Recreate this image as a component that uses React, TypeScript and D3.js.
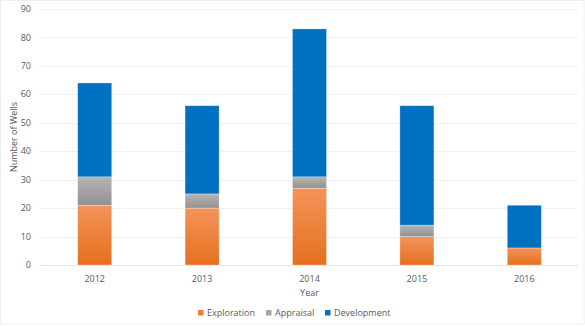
import React from "react";
import * as d3 from "d3";

const years = ["2012", "2013", "2014", "2015", "2016"];
const exploration = [21, 20, 27, 10, 6];
const appraisal = [10, 5, 4, 4, 0];
const development = [33, 31, 52, 42, 15];
const seriesNames = ["Exploration", "Appraisal", "Development"];
const yTicks = [0, 10, 20, 30, 40, 50, 60, 70, 80, 90];

const W = 585;
const H = 326;
const M = { left: 41, right: 7, top: 9, bottom: 61 };

export default function App() {
  const x = d3.scaleBand<string>().domain(years).range([M.left, W - M.right]).paddingInner(0.683).paddingOuter(0.3415);
  const y = d3.scaleLinear().domain([0, 90]).range([H - M.bottom, M.top]);

  const rows = years.map((yr, i) => ({
    year: yr,
    Exploration: exploration[i],
    Appraisal: appraisal[i],
    Development: development[i],
  }));
  const stack = d3.stack<any>().keys(seriesNames)(rows);
  const fills = ["url(#gOrange)", "url(#gGray)", "#0070C0"];
  const legendColors = ["#ED7D31", "#A5A5A5", "#0070C0"];
  const font = "'Open Sans', 'Noto Sans', sans-serif";
  const txt = "#595959";
  const legendX = [198, 266, 325];

  return (
    <svg width={W} height={H} style={{ position: "absolute", left: 0, top: 0, fontFamily: font }}>
      <defs>
        <linearGradient id="gOrange" x1="0" y1="0" x2="0" y2="1">
          <stop offset="0%" stopColor="#F4935A" />
          <stop offset="100%" stopColor="#E5701F" />
        </linearGradient>
        <linearGradient id="gGray" x1="0" y1="0" x2="0" y2="1">
          <stop offset="0%" stopColor="#B5B5B5" />
          <stop offset="100%" stopColor="#919191" />
        </linearGradient>
      </defs>
      <rect x={0} y={0} width={W} height={H} fill="#fff" />
      <rect x={0.5} y={0.5} width={W - 1.5} height={H - 2.5} fill="none" stroke="#EEEEEE" />
      {yTicks.map((t) => (
        <g key={t}>
          <line x1={M.left} x2={W - M.right} y1={Math.round(y(t)) + 0.5} y2={Math.round(y(t)) + 0.5} stroke={t === 0 ? "#E3E3E3" : "#F0F0F0"} />
          <text x={31} y={y(t)} dy="0.35em" textAnchor="end" fontSize={9} fill={txt}>{t}</text>
        </g>
      ))}
      {stack.map((s, si) =>
        s.map((d, i) =>
          d[1] - d[0] > 0 ? (
            <rect
              key={si + "-" + i}
              x={x(years[i])!}
              width={x.bandwidth()}
              y={y(d[1])}
              height={y(d[0]) - y(d[1])}
              fill={fills[si]}
              stroke="#ffffff"
              strokeOpacity={0.4}
              strokeWidth={0.75}
            />
          ) : null
        )
      )}
      {years.map((yr) => (
        <text key={yr} x={x(yr)! + x.bandwidth() / 2} y={282} textAnchor="middle" fontSize={9} fill={txt}>{yr}</text>
      ))}
      <text x={(M.left + W - M.right) / 2} y={296} textAnchor="middle" fontSize={9} fill={txt}>Year</text>
      <text transform={`translate(17,${(M.top + H - M.bottom) / 2}) rotate(-90)`} textAnchor="middle" fontSize={9} fill={txt}>Number of Wells</text>
      {seriesNames.map((n, i) => (
        <g key={n}>
          <rect x={legendX[i]} y={310} width={5.5} height={5.5} fill={legendColors[i]} />
          <text x={legendX[i] + 9} y={313} dy="0.35em" fontSize={9} fill={txt}>{n}</text>
        </g>
      ))}
    </svg>
  );
}
